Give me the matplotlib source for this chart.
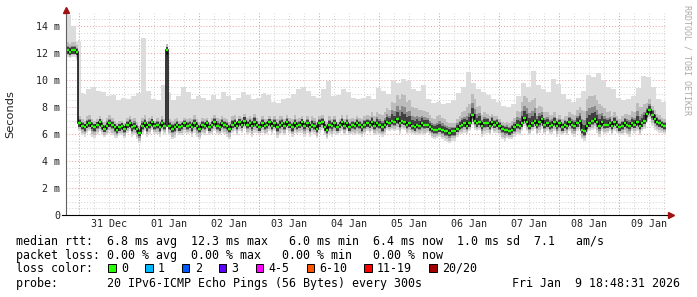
import numpy as np
import matplotlib
matplotlib.use('Agg')
import matplotlib.pyplot as plt
import matplotlib.dates as mdates
from matplotlib.patches import Rectangle
from datetime import datetime, timedelta

# =============================================================================
# Data (median hourly, smoke every 2 hours, ms)
# =============================================================================
start = datetime(2025, 12, 30, 18, 48, 31)
end = datetime(2026, 1, 9, 18, 48, 31)

median_ms = [
    12.2, 12.1, 12.2, 12.2, 12.1, 6.8, 6.6, 6.5, 6.7, 6.8, 6.6, 6.5, 6.7, 6.9, 6.6, 6.4, 6.6, 6.8, 6.7, 6.5, 6.3, 6.5, 6.6, 6.4,
    6.7, 6.8, 6.5, 6.6, 6.4, 6.1, 6.6, 6.8, 6.5, 6.7, 6.9, 6.6, 6.7, 6.5, 6.8, 6.6, 12.2, 6.6, 6.4, 6.5, 6.7, 6.5, 6.6, 6.8,
    6.6, 6.7, 6.5, 6.8, 6.6, 6.4, 6.7, 6.6, 6.8, 6.5, 6.7, 6.9, 6.6, 6.5, 6.8, 6.7, 6.6, 6.4, 6.7, 6.8, 6.6, 6.9, 6.7, 7.0,
    6.7, 6.8, 6.6, 6.9, 6.7, 6.5, 6.8, 6.6, 6.7, 6.9, 6.6, 6.8, 6.5, 6.7, 6.8, 6.6, 6.9, 6.7, 6.5, 6.8, 6.6, 6.7, 6.9, 6.6,
    6.8, 6.5, 6.7, 6.6, 6.4, 6.8, 6.9, 6.5, 6.3, 6.7, 6.6, 6.8, 6.5, 6.7, 6.9, 6.6, 6.8, 6.5, 6.7, 6.6, 6.8, 6.7, 6.5, 6.7,
    6.8, 6.7, 6.9, 6.6, 6.8, 6.7, 6.5, 6.7, 6.9, 6.8, 7.0, 6.9, 7.1, 6.8, 7.0, 6.9, 6.7, 6.8, 6.6, 6.5, 6.7, 6.6, 6.8, 6.7,
    6.7, 6.5, 6.4, 6.3, 6.3, 6.4, 6.3, 6.2, 6.2, 6.1, 6.2, 6.2, 6.4, 6.6, 6.7, 6.8, 6.6, 6.8, 7.4, 7.0, 6.8, 6.9, 6.6, 6.8,
    6.8, 6.6, 6.9, 6.7, 6.8, 6.6, 6.4, 6.3, 6.3, 6.2, 6.3, 6.5, 6.7, 6.6, 6.8, 7.2, 6.9, 6.6, 6.8, 7.0, 6.7, 6.9, 7.1, 6.7,
    6.8, 6.6, 6.7, 6.9, 6.6, 6.8, 6.5, 6.7, 6.6, 6.9, 6.7, 6.6, 6.8, 7.0, 6.3, 6.2, 6.6, 6.8, 7.0, 7.1, 6.9, 6.6, 6.9, 6.7,
    6.7, 6.8, 6.6, 6.9, 6.7, 6.5, 6.6, 6.8, 6.7, 6.6, 6.8, 6.7, 6.9, 6.6, 6.8, 7.0, 7.5, 7.8, 7.4, 7.1, 6.9, 6.8, 6.7, 6.6,
]

# highest ping of each 2h slot
smoke_top = [
    14.8, 14.0, 12.9,
    9.0, 9.3, 9.5, 9.2, 9.1, 8.8, 8.9, 8.5, 8.7, 8.6, 8.8, 9.0, 13.1, 9.2, 8.6, 8.5,
    9.6, 9.0, 8.5, 8.8, 9.5, 9.1, 8.6, 8.8, 8.7, 8.5, 8.9, 8.6, 9.1, 8.8, 8.5, 8.7, 9.1, 8.9, 8.6, 8.7,
    9.0, 8.9, 8.4, 8.3, 8.6, 8.7, 9.0, 9.3, 9.5, 9.2, 8.8, 8.7, 9.3, 9.9, 8.8, 8.9, 9.3, 9.1, 8.7, 8.6,
    8.7, 8.8, 8.6, 9.4, 9.2, 9.0, 10.0, 9.8, 10.1, 9.9, 9.3, 9.2, 9.6, 8.6, 8.3, 8.4, 8.2, 8.3, 8.5, 9.0,
    9.5, 10.6, 9.8, 9.3, 9.1, 8.9, 8.6, 8.4, 8.1, 8.0, 8.2, 8.8, 9.8, 9.5, 10.7, 9.6, 9.3, 9.1, 10.1, 9.7,
    9.0, 8.6, 8.4, 8.7, 9.2, 10.4, 10.2, 10.5, 10.0, 9.5, 9.3, 8.7, 8.5, 8.6, 8.8, 9.4, 10.3, 10.2, 9.5, 8.6, 8.4,
]

# how far the lowest ping sits below the median
smoke_drop = [
    0.5, 0.5, 0.6, 0.7, 0.6, 0.8, 0.7, 0.6, 0.7, 0.8,
    0.6, 0.7, 0.6, 0.7, 0.8, 0.6, 0.7, 0.6, 0.7, 0.6,
    0.7, 0.8, 0.6, 0.7, 0.6, 0.7, 0.8, 0.7, 0.6, 0.7,
    0.6, 0.7, 0.8, 0.6, 0.7, 0.6, 0.7, 0.8, 0.6, 0.7,
    0.7, 0.6, 0.8, 0.7, 0.6, 0.7, 0.6, 0.8, 0.7, 0.6,
    0.7, 0.6, 0.7, 0.8, 0.6, 0.7, 0.6, 0.7, 0.8, 0.7,
    0.6, 0.7, 0.8, 0.7, 0.6, 0.7, 0.8, 0.6, 0.7, 0.6,
    0.7, 0.8, 0.6, 0.7, 0.6, 0.7, 0.8, 0.7, 0.6, 0.7,
    0.6, 0.7, 0.6, 0.8, 0.7, 0.6, 0.7, 0.8, 0.6, 0.7,
    0.7, 0.6, 0.7, 0.6, 0.8, 0.7, 0.6, 0.7, 0.8, 0.6,
    0.7, 0.8, 0.6, 0.7, 0.6, 0.7, 0.8, 0.7, 0.6, 0.7,
    0.6, 0.7, 0.8, 0.6, 0.7, 0.6, 0.7, 0.8, 0.7, 0.6,
]

# how far the dense (dark) smoke reaches above the median
dense_up = [
    0.6, 0.6, 0.5, 0.5, 0.6, 0.5, 0.4, 0.5, 0.6, 0.5,
    0.5, 0.4, 0.5, 0.6, 0.5, 0.6, 0.5, 0.4, 0.5, 0.5,
    0.5, 0.6, 0.5, 0.4, 0.5, 0.6, 0.5, 0.5, 0.4, 0.5,
    0.6, 0.5, 0.5, 0.6, 0.4, 0.5, 0.5, 0.6, 0.5, 0.5,
    0.4, 0.5, 0.6, 0.5, 0.5, 0.6, 0.5, 0.4, 0.5, 0.6,
    0.5, 0.5, 0.6, 0.5, 0.4, 0.5, 0.6, 0.5, 0.5, 0.6,
    0.6, 0.7, 0.8, 0.9, 1.0, 1.4, 1.8, 2.0, 1.7, 1.4,
    1.2, 1.0, 0.9, 0.8, 1.0, 0.9, 0.7, 0.6, 0.7, 0.9,
    1.4, 1.6, 1.2, 0.8, 0.7, 0.6, 0.5, 0.5, 0.6, 0.7,
    1.0, 1.6, 1.8, 1.7, 1.2, 0.9, 0.8, 0.7, 0.6, 0.6,
    0.7, 0.8, 1.0, 1.5, 2.0, 1.8, 1.6, 1.2, 0.9, 0.7,
    0.6, 0.7, 0.8, 0.9, 1.4, 1.2, 0.8, 0.7, 0.6, 0.5,
]

y_ticks = [0, 2, 4, 6, 8, 10, 12, 14]
y_tick_labels = ['0', '2 m', '4 m', '6 m', '8 m', '10 m', '12 m', '14 m']

rtt_line = 'median rtt:  6.8 ms avg  12.3 ms max   6.0 ms min  6.4 ms now  1.0 ms sd  7.1   am/s'
loss_line = 'packet loss: 0.00 % avg  0.00 % max   0.00 % min   0.00 % now'
loss_labels = ['0', '1', '2', '3', '4-5', '6-10', '11-19', '20/20']
loss_colors = ['#26ff00', '#00b8ff', '#0059ff', '#5e00ff', '#ff00ff', '#ff5500', '#ff0000', '#a10000']
probe_line = 'probe:       20 IPv6-ICMP Echo Pings (56 Bytes) every 300s'
stamp = 'Fri Jan  9 18:48:31 2026'

# =============================================================================
# Figure
# =============================================================================
W, H = 697, 297
fig = plt.figure(figsize=(W/100., H/100.), dpi=100, facecolor='white')
ax = fig.add_axes([66./W, (H-215.)/H, 600./W, 202.5/H])
ax.set_facecolor('white')

med = np.array(median_ms)
edges = mdates.date2num([start + timedelta(hours=i) for i in range(len(med)+1)])
drop = np.repeat(smoke_drop, 2)
dense = np.repeat(dense_up, 2)
top = np.maximum(np.repeat(smoke_top, 2), med + dense)
body = np.minimum(top, med + 1.2)

# grid
t0, t1 = mdates.date2num(start), mdates.date2num(end)
for x in mdates.HourLocator(byhour=[0, 6, 12, 18]).tick_values(start, end):
    if t0 < x < t1:
        ax.axvline(x, color='#d0d0d0', lw=0.7, ls=(0, (1, 2)), zorder=0)
for x in mdates.DayLocator().tick_values(start, end):
    if t0 < x < t1:
        ax.axvline(x, color='#e8a0a0', lw=0.7, ls=(0, (1, 2)), zorder=0.5)
for y in np.arange(0.5, 15, 0.5):
    c = '#e8a0a0' if y % 2 == 0 else '#d0d0d0'
    ax.axhline(y, color=c, lw=0.7, ls=(0, (1, 2)), zorder=0.5 if y % 2 == 0 else 0)

# smoke: light body + thin spikes for the top pings
ax.stairs(body, edges, baseline=med-drop, fill=True, color='#dcdcdc', zorder=1)
hw = 1.3/24.
ax.bar(edges[:-1] + 0.5/24., top - body, bottom=body, width=hw, color='#dcdcdc', lw=0, zorder=1)
ax.stairs(med+dense, edges, baseline=med-0.75*drop, fill=True, color='#bcbcbc', zorder=1.1)
ax.stairs(med+0.55*dense, edges, baseline=med-0.45*drop, fill=True, color='#8a8a8a', zorder=1.2)
ax.stairs(med+0.25*dense+0.1, edges, baseline=med-0.25, fill=True, color='#404040', zorder=1.3)

# median
ax.stairs(med, edges, color='black', lw=1.1, baseline=None, zorder=2)
ax.hlines(med, edges[:-1], edges[1:], color=loss_colors[0], lw=1.6, zorder=3)

ax.set_xlim(t0, t1)
ax.set_ylim(0, 15)
for s in ax.spines.values():
    s.set_visible(False)

ax.xaxis.set_major_locator(mdates.HourLocator(byhour=[12]))
ax.xaxis.set_major_formatter(mdates.DateFormatter('%d %b'))
ax.set_yticks(y_ticks)
ax.set_yticklabels(y_tick_labels)
ax.tick_params(axis='x', length=0, pad=3, labelsize=7.2, labelcolor='#222222')
ax.tick_params(axis='y', length=0, pad=4.3, labelsize=7.2, labelcolor='#222222')
for lab in ax.get_xticklabels() + ax.get_yticklabels():
    lab.set_family('DejaVu Sans Mono')

# axis lines + arrows
ax.plot([0, 0], [0, 1.005], transform=ax.transAxes, color='#606060', lw=0.8, clip_on=False, zorder=5)
ax.plot([-0.006, 1.004], [0, 0], transform=ax.transAxes, color='black', lw=0.8, clip_on=False, zorder=5)
ax.plot([0], [1.012], marker='^', ms=4, color='#a01010', transform=ax.transAxes, clip_on=False, zorder=6)
ax.plot([1.008], [0], marker='>', ms=4, color='#a01010', transform=ax.transAxes, clip_on=False, zorder=6)

# labels
def px(x, y):
    return x/float(W), 1 - y/float(H)

fig.text(*px(10, 114), 'Seconds', rotation=90, ha='center', va='center', fontsize=8.2, color='#222222')
fig.text(*px(687, 5), 'RRDTOOL / TOBI OETIKER', rotation=270, ha='center', va='top',
         fontsize=6, color='#aaaaaa', family='DejaVu Sans Mono')

mono = dict(family='DejaVu Sans Mono', fontsize=8.4, color='black', va='center', ha='left')
fig.text(*px(16, 241), rtt_line, **mono)
fig.text(*px(16, 255), loss_line, **mono)
fig.text(*px(16, 268.3), 'loss color:', **mono)
fig.text(*px(16, 283.3), probe_line, **mono)
fig.text(*px(680, 283.3), stamp, **dict(mono, ha='right'))

cw = 6.97
xs = 108.3
for lab, col in zip(loss_labels, loss_colors):
    fig.patches.append(Rectangle(px(xs, 271.7), 7.4/W, 7.4/H, transform=fig.transFigure,
                                 facecolor=col, edgecolor='black', lw=0.7))
    fig.text(*px(xs + 12.7, 268.3), lab, **mono)
    xs += 12.7 + len(lab)*cw + 17.2

fig.savefig('out.png', dpi=100, facecolor='white')
